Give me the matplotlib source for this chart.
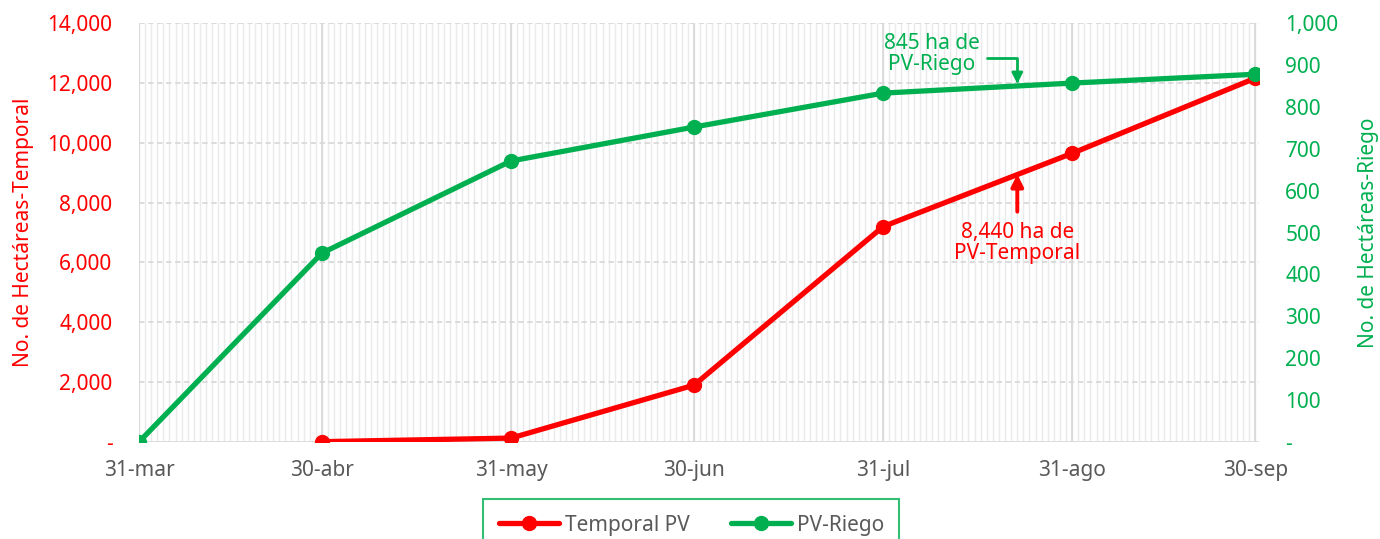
import numpy as np
import pandas as pd
import matplotlib
matplotlib.use("Agg")
from matplotlib import pyplot as plt
from matplotlib.ticker import FuncFormatter, MultipleLocator

plt.rcParams['font.family'] = ['Noto Sans', 'DejaVu Sans']

# data
fechas = ["2023-03-31", "2023-04-30", "2023-05-31", "2023-06-30",
          "2023-07-31", "2023-08-31", "2023-09-30"]
etiquetas = ["31-mar", "30-abr", "31-may", "30-jun", "31-jul", "31-ago", "30-sep"]
temporal = [np.nan, 10, 130, 1900, 7200, 9650, 12160]
riego = [0, 451, 671, 752, 833, 857, 878]

RED = "#FF0000"
GREEN = "#00B050"
GRAY = "#595959"
FS = 15

x = pd.to_datetime(fechas)

fig = plt.figure(figsize=(13.8, 5.39), dpi=100)
ax = fig.add_axes([0.1007, 0.18, 0.8115, 0.777])
ax2 = ax.twinx()

ax.set_xlim(x[0], x[-1] + pd.Timedelta(days=0.6))
ax.set_ylim(0, 14000)
ax2.set_ylim(0, 1000)

# daily minor grid, monthly major grid
days = pd.date_range(x[0], x[-1], freq="D")
for d in days:
    ax.axvline(d, color="#EAEAEA", lw=1.0, zorder=0)
for d in x:
    ax.axvline(d, color="#D9D9D9", lw=1.3, zorder=0)
for v in range(2000, 14001, 2000):
    ax.axhline(v, color="#D9D9D9", lw=1.3, ls=(0, (3, 2)), zorder=0)
ax.axhline(0, color="#D9D9D9", lw=1.3, zorder=0)

ax.plot(x, temporal, color=RED, lw=3.8, marker="o", ms=10, zorder=3,
        label="Temporal PV", solid_capstyle="round")
ax2.plot(x, riego, color=GREEN, lw=3.8, marker="o", ms=10, zorder=3,
         label="PV-Riego", solid_capstyle="round")

ax.set_xticks(x)
ax.set_xticklabels(etiquetas)
ax.tick_params(axis="x", colors=GRAY, labelsize=FS, length=0, pad=13)

fmt = lambda v, p: "-" if v == 0 else f"{v:,.0f}"
ax.yaxis.set_major_locator(MultipleLocator(2000))
ax.yaxis.set_major_formatter(FuncFormatter(fmt))
ax.tick_params(axis="y", colors=RED, labelsize=FS, length=0, pad=19)
ax2.yaxis.set_major_locator(MultipleLocator(100))
ax2.yaxis.set_major_formatter(FuncFormatter(fmt))
ax2.tick_params(axis="y", colors=GREEN, labelsize=FS, length=0, pad=19)

ax.set_ylabel("No. de Hectáreas-Temporal", color=RED, fontsize=FS, labelpad=10)
ax2.set_ylabel("No. de Hectáreas-Riego", color=GREEN, fontsize=FS, labelpad=14)

for a in (ax, ax2):
    for s in a.spines.values():
        s.set_visible(False)
ax.patch.set_visible(False)

# annotations
xa = pd.Timestamp("2023-08-22")
ax.annotate("", xy=(xa, 8950), xytext=(xa, 7700),
            arrowprops=dict(arrowstyle="-|>", color=RED, lw=2.8,
                            mutation_scale=18, shrinkA=0, shrinkB=0))
ax.text(xa, 7350, "8,440 ha de\nPV-Temporal", color=RED,
        fontsize=FS, ha="center", va="top", linespacing=1.0)

ax2.annotate("", xy=(xa, 855), xytext=(pd.Timestamp("2023-08-17"), 916),
             arrowprops=dict(arrowstyle="-|>", color=GREEN, lw=2,
                             mutation_scale=16, shrinkA=0, shrinkB=0,
                             connectionstyle="angle,angleA=0,angleB=90,rad=0"))
ax2.text(pd.Timestamp("2023-08-08"), 927, "845 ha de\nPV-Riego", color=GREEN,
         fontsize=FS, ha="center", va="center", linespacing=1.0)

h1, l1 = ax.get_legend_handles_labels()
h2, l2 = ax2.get_legend_handles_labels()
leg = fig.legend(h1 + h2, l1 + l2, loc="upper center", ncol=2,
                 bbox_to_anchor=(0.501, 0.074), fontsize=FS, frameon=True,
                 fancybox=False, handlelength=2.9, handletextpad=0.25,
                 columnspacing=2.0, borderpad=0.75, borderaxespad=0)
leg.get_frame().set_edgecolor(GREEN)
leg.get_frame().set_linewidth(1.5)
for t in leg.get_texts():
    t.set_color(GRAY)

fig.savefig("out.png", dpi=100)
